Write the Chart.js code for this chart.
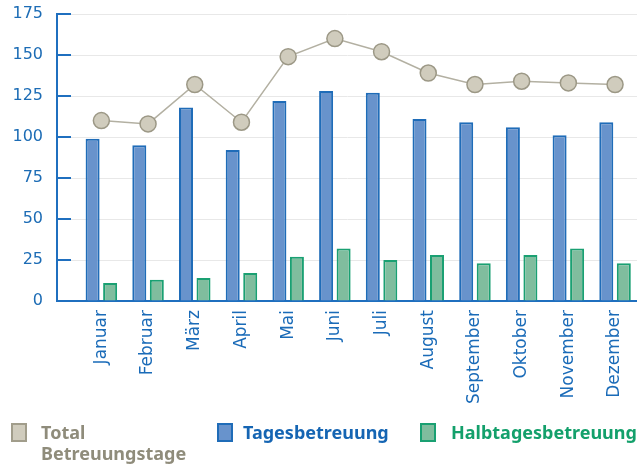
<!DOCTYPE html>
<html>
<head>
<meta charset="utf-8">
<script src="https://cdn.jsdelivr.net/npm/chart.js@4"></script>
<style>
  body { margin: 0; background: white; }
  #wrap { position: relative; width: 637px; height: 464px; }
  .legend { position: absolute; top: 422px; font-family: "Noto Sans", sans-serif; font-weight: 700; font-size: 18px; line-height: 21px; }
  .legend .box { position: absolute; left: 0; top: 1px; width: 16px; height: 19px; border: 2px solid; box-sizing: border-box; }
  .legend .txt { position: absolute; white-space: nowrap; }
</style>
</head>
<body>
<div id="wrap">
  <canvas id="chart" width="637" height="464"></canvas>
  <div class="legend" style="left:11px">
    <div class="box" style="background:#d0ccbd;border-color:#a19d8b"></div>
    <div class="txt" style="left:30px;color:#8f8c7b">Total<br>Betreuungstage</div>
  </div>
  <div class="legend" style="left:217px">
    <div class="box" style="background:#6893cc;border-color:#1f6cb8"></div>
    <div class="txt" style="left:26px;color:#1565b3">Tagesbetreuung</div>
  </div>
  <div class="legend" style="left:420px">
    <div class="box" style="background:#80bd9e;border-color:#1aa072"></div>
    <div class="txt" style="left:31px;color:#13a06b">Halbtagesbetreuung</div>
  </div>
</div>
<script>
const months = ["Januar", "Februar", "März", "April", "Mai", "Juni", "Juli", "August", "September", "Oktober", "November", "Dezember"]
const tages = [99, 95, 118, 92, 122, 128, 127, 111, 109, 106, 101, 109]
const halbtages = [11, 13, 14, 17, 27, 32, 25, 28, 23, 28, 32, 23]
const total = [110, 108, 132, 109, 149, 160, 152, 139, 132, 134, 133, 132]
const yTicks = [0, 25, 50, 75, 100, 125, 150, 175]

const axisBlue = "#1f6fbf"

function toPoints(list) {
  return list.map((v, i) => ({ x: i, y: v }))
}

// short blue tick marks drawn on the inside of the y axis
const innerTicks = {
  id: "innerTicks",
  afterDraw(chart) {
    let ctx = chart.ctx
    let y = chart.scales.y
    let left = chart.chartArea.left
    ctx.save()
    ctx.strokeStyle = axisBlue
    ctx.lineWidth = 2
    y.ticks.forEach(t => {
      let py = Math.round(y.getPixelForValue(t.value))
      ctx.beginPath()
      ctx.moveTo(left, py)
      ctx.lineTo(left + 14, py)
      ctx.stroke()
    })
    ctx.restore()
  }
}

let ctx = document.getElementById("chart")
let chart = new Chart(ctx, {
  type: "bar",
  data: {
    datasets: [
      {
        type: "line",
        label: "Total Betreuungstage",
        data: toPoints(total),
        borderColor: "#b3b0a2",
        borderWidth: 1.5,
        backgroundColor: "#d0ccbd",
        pointBackgroundColor: "#d0ccbd",
        pointBorderColor: "#9c9886",
        pointBorderWidth: 1.5,
        pointRadius: 8,
        order: 0
      },
      {
        label: "Tagesbetreuung",
        data: toPoints(tages),
        backgroundColor: "#6893cc",
        borderColor: "#1f6cb8",
        borderWidth: 2,
        categoryPercentage: 0.75,
        barPercentage: 0.8,
        order: 1
      },
      {
        label: "Halbtagesbetreuung",
        data: toPoints(halbtages),
        backgroundColor: "#80bd9e",
        borderColor: "#1aa072",
        borderWidth: 2,
        categoryPercentage: 0.75,
        barPercentage: 0.8,
        order: 1
      }
    ]
  },
  options: {
    responsive: false,
    animation: false,
    layout: { autoPadding: false, padding: 0 },
    plugins: {
      legend: { display: false },
      tooltip: { enabled: false }
    },
    scales: {
      x: {
        type: "linear",
        min: -0.95,
        max: 11.47,
        offset: false,
        grid: { display: false, drawTicks: false },
        border: { color: axisBlue, width: 2 },
        afterFit: scale => {
          scale.height = 163
          scale.paddingLeft = 0
          scale.paddingRight = 0
        },
        afterBuildTicks: scale => {
          scale.ticks = months.map((m, i) => ({ value: i }))
        },
        ticks: {
          autoSkip: false,
          minRotation: 90,
          maxRotation: 90,
          padding: 9,
          color: "#1a6bb8",
          font: { family: "DejaVu Sans", size: 17 },
          callback: v => months[v]
        }
      },
      y: {
        min: 0,
        max: 175,
        afterFit: scale => {
          scale.width = 57
          scale.paddingTop = 14
          scale.paddingBottom = 0
        },
        afterBuildTicks: scale => {
          scale.ticks = yTicks.map(v => ({ value: v }))
        },
        grid: { color: "#e8e8e8", lineWidth: 1, drawTicks: false },
        border: { color: axisBlue, width: 2 },
        ticks: {
          padding: 14,
          color: "#1c6cb5",
          font: { family: "DejaVu Sans", size: 16 }
        }
      }
    }
  },
  plugins: [innerTicks]
})
</script>
</body>
</html>
